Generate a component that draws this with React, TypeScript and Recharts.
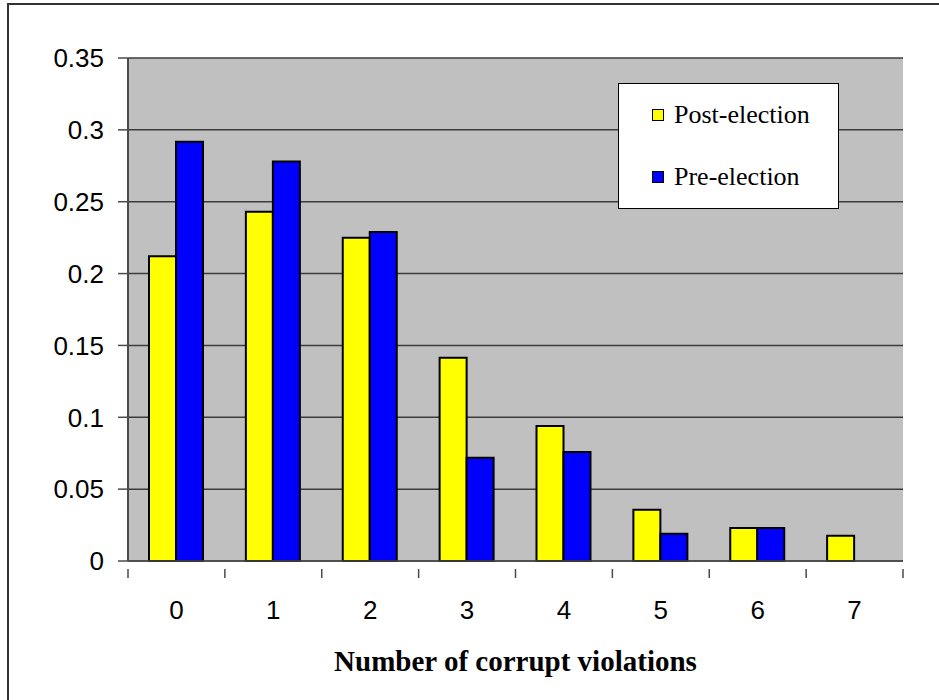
import { Bar, BarChart, CartesianGrid, Legend, XAxis, YAxis } from "recharts";

const violations = ["0", "1", "2", "3", "4", "5", "6", "7"];
const postElection = [0.212, 0.243, 0.225, 0.1415, 0.094, 0.0357, 0.023, 0.0176];
const preElection = [0.2918, 0.278, 0.229, 0.0719, 0.0759, 0.019, 0.023, 0];
const yTicks = [0, 0.05, 0.1, 0.15, 0.2, 0.25, 0.3, 0.35];

const data = violations.map((name, i) => ({
  name,
  post: postElection[i],
  pre: preElection[i],
}));

const AXIS = "#4a4a4a";

// ticks sit between categories, labels at the centers
const XTick = (props: any) => {
  const { x, y, payload, index } = props;
  const half = payload?.offset ?? 0;
  return (
    <g>
      <line x1={x - half} x2={x - half} y1={y} y2={y + 9} stroke={AXIS} strokeWidth={1.5} />
      {index === violations.length - 1 && (
        <line x1={x + half} x2={x + half} y1={y} y2={y + 9} stroke={AXIS} strokeWidth={1.5} />
      )}
      <text
        x={x}
        y={y + 50}
        textAnchor="middle"
        fontFamily="Liberation Sans, Arial, sans-serif"
        fontSize={26}
        fill="#000"
      >
        {payload.value}
      </text>
    </g>
  );
};

const LegendBox = () => (
  <div
    style={{
      width: 219,
      height: 124,
      background: "#fff",
      border: "1px solid #000",
      position: "relative",
      fontFamily: "Liberation Serif, 'Times New Roman', serif",
      fontSize: 26,
      color: "#000",
    }}
  >
    {[
      { label: "Post-election", color: "#ffff00", top: 31 },
      { label: "Pre-election", color: "#0000ff", top: 93 },
    ].map((it) => (
      <div
        key={it.label}
        style={{
          position: "absolute",
          left: 33,
          top: it.top - 15,
          height: 30,
          display: "flex",
          alignItems: "center",
          whiteSpace: "nowrap",
        }}
      >
        <span
          style={{
            display: "inline-block",
            width: 10,
            height: 10,
            background: it.color,
            border: "1.5px solid #000",
            marginRight: 10,
          }}
        />
        {it.label}
      </div>
    ))}
  </div>
);

export default function App() {
  return (
    <div style={{ position: "absolute", left: 0, top: 0, width: 939, height: 700, overflow: "hidden", background: "#fff" }}>
      <div
        style={{
          position: "absolute",
          left: 7,
          top: 3,
          width: 960,
          height: 720,
          borderLeft: "2px solid #333",
          borderTop: "2px solid #333",
        }}
      />
      <BarChart
        width={939}
        height={700}
        data={data}
        margin={{ top: 58, right: 36, left: 0, bottom: 79 }}
        barCategoryGap="22.5%"
        barGap={0}
      >
        <CartesianGrid vertical={false} fill="#c0c0c0" stroke="#3c3c3c" strokeWidth={1.5} />
        <XAxis
          dataKey="name"
          height={60}
          tickLine={false}
          axisLine={{ stroke: AXIS, strokeWidth: 1.5 }}
          tick={<XTick />}
          interval={0}
          label={{
            value: "Number of corrupt violations",
            position: "insideBottom",
            offset: -50,
            style: {
              fontFamily: "Liberation Serif, 'Times New Roman', serif",
              fontWeight: "bold",
              fontSize: 29,
              fill: "#000",
            },
          }}
        />
        <YAxis
          width={128}
          domain={[0, 0.35]}
          ticks={yTicks}
          interval={0}
          tickSize={10}
          tickMargin={14}
          tickLine={{ stroke: AXIS, strokeWidth: 1.5 }}
          axisLine={{ stroke: AXIS, strokeWidth: 2 }}
          tick={{ fontFamily: "Liberation Sans, Arial, sans-serif", fontSize: 26, fill: "#000" }}
        />
        <YAxis
          yAxisId="frame"
          orientation="right"
          width={0}
          domain={[0, 1]}
          tick={false}
          tickLine={false}
          axisLine={{ stroke: "#808080", strokeWidth: 2 }}
        />
        <Legend
          layout="horizontal"
          verticalAlign="middle"
          align="center"
          wrapperStyle={{ left: 618, top: 83, width: 221 }}
          content={() => <LegendBox />}
        />
        <Bar dataKey="post" name="Post-election" fill="#ffff00" stroke="#000" strokeWidth={2} barSize={27} isAnimationActive={false} />
        <Bar dataKey="pre" name="Pre-election" fill="#0000ff" stroke="#000" strokeWidth={2} barSize={27} isAnimationActive={false} />
      </BarChart>
    </div>
  );
}
